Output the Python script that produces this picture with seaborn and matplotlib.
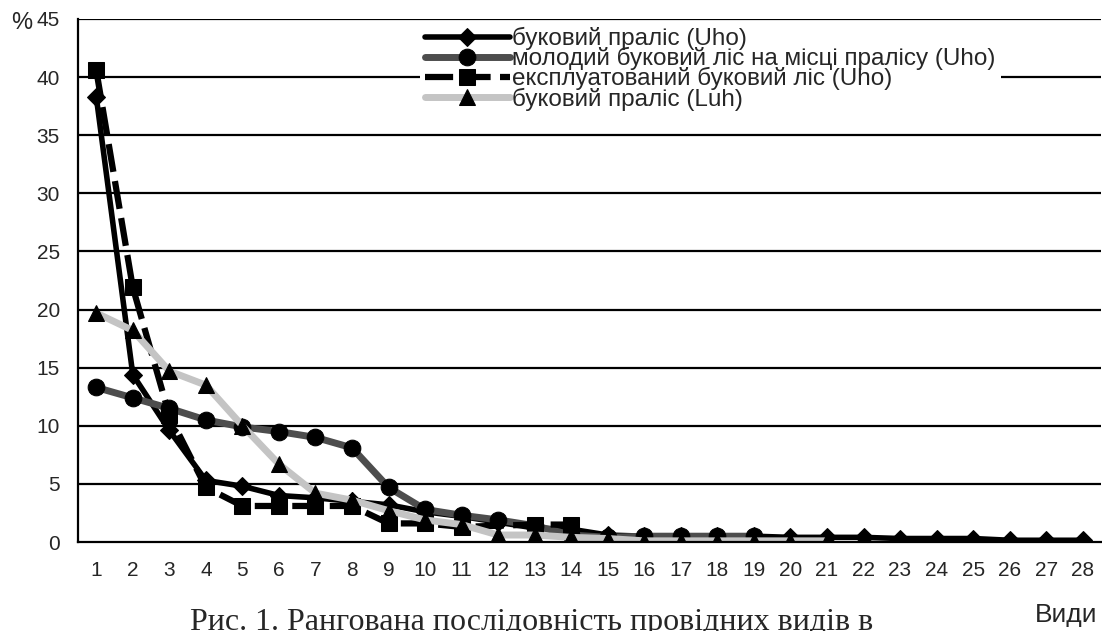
import numpy as np
import pandas as pd
import matplotlib
matplotlib.use('Agg')
import matplotlib.pyplot as plt
import seaborn as sns

# ranked species shares, %
x_uho = list(range(1, 29))
uho_virgin = [38.3, 14.4, 9.6, 5.3, 4.8, 4.0, 3.8, 3.5, 3.2, 2.6, 2.2, 1.7, 1.2, 1.1,
              0.6, 0.5, 0.5, 0.5, 0.5, 0.4, 0.4, 0.4, 0.3, 0.3, 0.3, 0.15, 0.15, 0.15]
x_young = list(range(1, 20))
uho_young = [13.3, 12.4, 11.5, 10.5, 9.9, 9.5, 9.0, 8.1, 4.7, 2.8, 2.3, 1.9, 1.4, 0.6,
             0.4, 0.5, 0.5, 0.5, 0.5]
x_exploited = [1, 2, 3, 4, 5, 6, 7, 8, 9, 10, 11, 13, 14]
uho_exploited = [40.6, 21.9, 10.9, 4.7, 3.1, 3.1, 3.1, 3.1, 1.6, 1.6, 1.3, 1.5, 1.5]
x_luh = list(range(1, 22))
luh_virgin = [19.7, 18.2, 14.7, 13.5, 10.0, 6.7, 4.2, 3.6, 2.7, 1.9, 1.5, 0.6, 0.6, 0.4,
              0.3, 0.1, 0.1, 0.1, 0.1, 0.1, 0.1]

labels = ['буковий праліс (Uho)',
          'молодий буковий ліс на місці пралісу (Uho)',
          'експлуатований буковий ліс (Uho)',
          'буковий праліс (Luh)']

sns.set_style('white')
plt.rcParams['font.family'] = ['Liberation Sans', 'DejaVu Sans']

fig = plt.figure(figsize=(11.02, 6.31), dpi=100)
ax = fig.add_axes([78 / 1102, 89 / 631, 1023 / 1102, 523 / 631])

ax.set_ylim(0, 45)
ax.set_xlim(0.5, 28.5)
ax.set_yticks(range(0, 46, 5))
for v in range(5, 46, 5):
    ax.axhline(v, color='black', lw=1.6, zorder=0)

sns.lineplot(x=x_uho, y=uho_virgin, ax=ax, color='black', lw=4.0, marker='D',
             ms=9, mfc='black', mec='black', label=labels[0], estimator=None, sort=False)
sns.lineplot(x=x_young, y=uho_young, ax=ax, color='#4d4d4d', lw=5.0, marker='o',
             ms=12, mfc='black', mec='black', label=labels[1], estimator=None, sort=False)
sns.lineplot(x=x_exploited, y=uho_exploited, ax=ax, color='black', lw=4.5, marker='s',
             ms=11, mfc='black', mec='black', label=labels[2], estimator=None, sort=False,
             dashes=False, linestyle=(0, (4.5, 1.5)))
sns.lineplot(x=x_luh, y=luh_virgin, ax=ax, color='#c4c4c4', lw=5.0, marker='^',
             ms=12, mfc='black', mec='black', label=labels[3], estimator=None, sort=False)

# axes styling
for s in ['top', 'right']:
    ax.spines[s].set_visible(False)
for s in ['left', 'bottom']:
    ax.spines[s].set_linewidth(1.6)
    ax.spines[s].set_color('black')

ax.set_xticks(x_uho)
ax.set_xticklabels([str(i) for i in x_uho], fontsize=15)
ax.set_xticks(np.arange(0.5, 29, 1), minor=True)
ax.tick_params(axis='x', which='major', length=0, pad=14)
ax.tick_params(axis='x', which='minor', length=7, width=1.6, direction='out', color='black')
ax.tick_params(axis='y', which='major', length=8, width=1.6, direction='out', color='black',
               labelsize=15, pad=5)
ax.set_xlabel('')
ax.set_ylabel('')

leg = ax.legend(loc='upper left', bbox_to_anchor=(420 / 1102, 1 - 22 / 631),
                bbox_transform=fig.transFigure, fontsize=17.5, frameon=True,
                facecolor='white', edgecolor='none', framealpha=1, fancybox=False,
                labelspacing=-0.12, handlelength=3.5, handletextpad=0.1, borderpad=0.2,
                borderaxespad=0)
leg.set_zorder(5)

fig.text(11 / 1102, 1 - 12 / 631, '%', fontsize=17, va='top', ha='left')
fig.text(1097 / 1102, 1 - 603 / 631, 'Види', fontsize=19, va='top', ha='right')
fig.text(532 / 1102, 1 - 630 / 631, 'Рис. 1. Рангована послідовність провідних видів в',
         fontsize=23, va='baseline', ha='center', family=['Liberation Serif', 'DejaVu Serif'])

fig.savefig('out.png', dpi=100)
